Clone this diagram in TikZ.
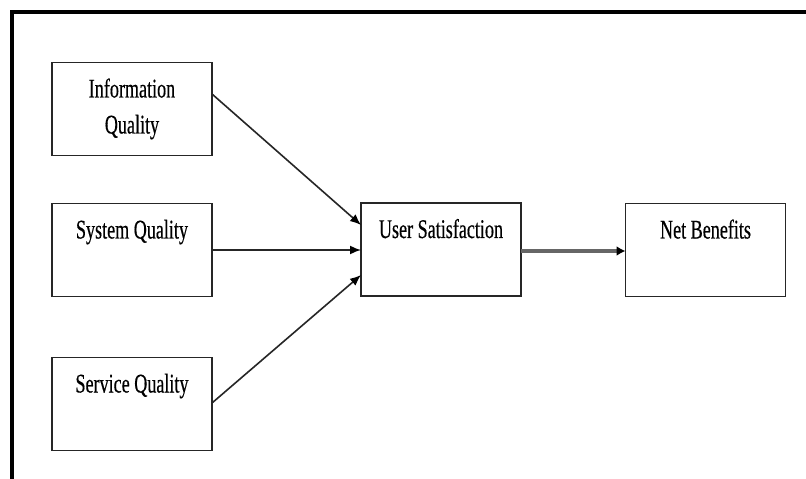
\documentclass[tikz,border=0pt]{standalone}
\usepackage{fontspec}
\setmainfont{Liberation Serif}
\newfontfamily\tnr[FakeStretch=0.67,FakeBold=0.4]{Liberation Serif}
\usetikzlibrary{arrows.meta}
\newcommand\bxtxt[1]{\parbox[c][93bp][t]{160bp}{\centering\tnr\fontsize{27bp}{36bp}\selectfont\rule{0pt}{35bp}#1}}
\tikzset{
  boxnode/.style={draw=black!85, line width=1.6bp, minimum width=160bp, minimum height=93bp, inner sep=0pt, outer sep=0pt},
  conn/.style={line width=1.6bp, draw=black!85, -{Latex[length=11bp,width=9bp,color=black]}},
  netconn/.style={line width=3.2bp, draw=black!60, -{Latex[length=9bp,width=10bp,color=black]}}
}
\begin{document}
\begin{tikzpicture}[x=1bp,y=-1bp]
\useasboundingbox (0,0) rectangle (806,479);
\fill[white] (0,0) rectangle (806,479);
\draw[line width=3.2bp] (12,479) -- (12,12) -- (806,12);
\node[boxnode] (info) at (132,109) {\bxtxt{Information\\Quality}};
\node[boxnode] (sys) at (132,250) {\bxtxt{System Quality}};
\node[boxnode] (serv) at (132,404) {\bxtxt{Service Quality}};
\node[boxnode] (user) at (441,249.5) {\bxtxt{User Satisfaction}};
\node[boxnode] (net) at (705.5,250) {\bxtxt{Net Benefits}};
\draw[conn] ([yshift=15bp]info.east) -- ([yshift=24.5bp]user.west);
\draw[conn] (sys.east) -- (user.west |- sys.east);
\draw[conn] ([yshift=1bp]serv.east) -- ([yshift=-25.5bp]user.west);
\draw[netconn] ([yshift=-1.5bp]user.east) -- ([yshift=-1bp]net.west);
\end{tikzpicture}
\end{document}
